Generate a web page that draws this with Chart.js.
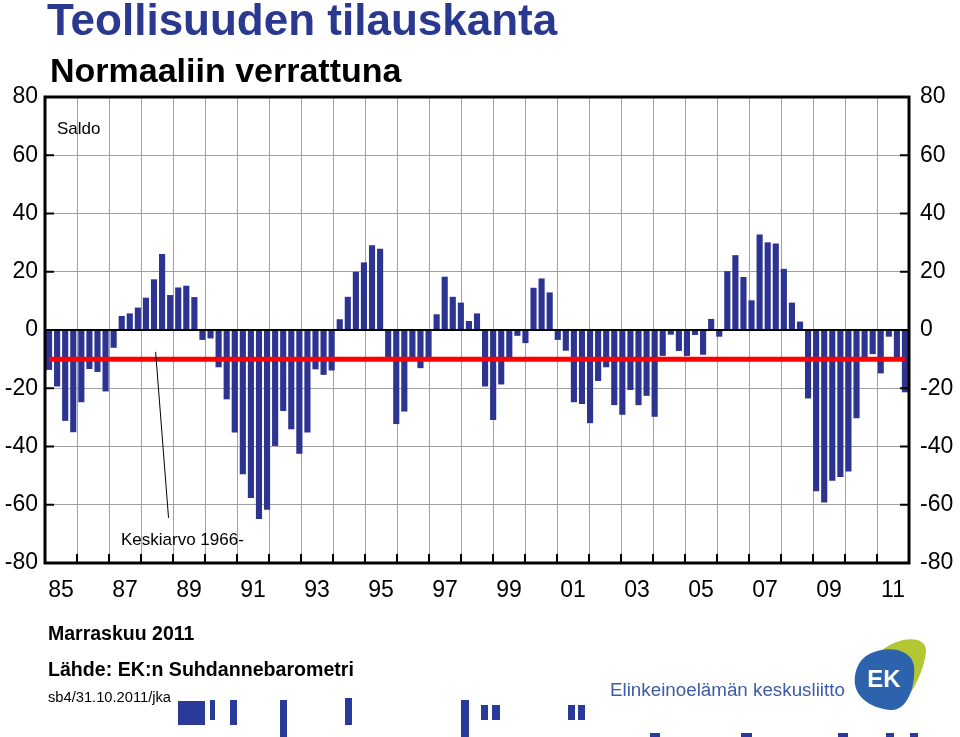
<!DOCTYPE html>
<html>
<head>
<meta charset="utf-8">
<script src="https://cdn.jsdelivr.net/npm/chart.js@4.4.0/dist/chart.umd.min.js"></script>
<style>
body { margin: 0; background: #fff; }
#wrap { position: relative; width: 960px; height: 737px; overflow: hidden; font-family: "Liberation Sans", Arial, sans-serif; }
#c { position: absolute; left: 0; top: 0; }
.t { position: absolute; white-space: nowrap; line-height: 1; color: #000; }
svg { position: absolute; left: 0; top: 0; }
</style>
</head>
<body>
<div id="wrap">
<canvas id="c" width="960" height="737"></canvas>
<div class="t" style="left:47px;top:-2px;font-size:44px;font-weight:bold;color:#2b388f">Teollisuuden tilauskanta</div>
<div class="t" style="left:50px;top:53px;font-size:34px;font-weight:bold">Normaaliin verrattuna</div>
<div class="t" style="left:57px;top:120px;font-size:17px">Saldo</div>
<div class="t" style="left:121px;top:531px;font-size:17px">Keskiarvo 1966-</div>
<div class="t" style="left:48px;top:624px;font-size:19.5px;font-weight:bold">Marraskuu 2011</div>
<div class="t" style="left:48px;top:660px;font-size:19.6px;font-weight:bold">Lähde: EK:n Suhdannebarometri</div>
<div class="t" style="left:48px;top:690px;font-size:14.7px">sb4/31.10.2011/jka</div>
<div class="t" style="left:610px;top:681px;font-size:18.8px;color:#3d5ba9">Elinkeinoelämän keskusliitto</div>
<svg width="960" height="737">
  <path d="M872 660 C890 636 928 632 926 652 C924 670 914 690 902 706 C915 684 916 662 872 660 Z" fill="#b3c735"/>
  <path d="M866 656 C884 644 912 648 914 666 C916 688 906 712 890 710 C870 708 852 696 855 676 C856 668 860 660 866 656 Z" fill="#2d63ad"/>
  <text x="884" y="687" font-family="Liberation Sans, Arial" font-weight="bold" font-size="24" fill="#fff" text-anchor="middle">EK</text>
  <g fill="#2a3a9a">
    <rect x="178" y="701" width="27" height="24"/>
    <rect x="210" y="700" width="5" height="20"/>
    <rect x="230" y="700" width="7" height="25"/>
    <rect x="280" y="700" width="7" height="37"/>
    <rect x="345" y="698" width="7" height="27"/>
    <rect x="461" y="700" width="8" height="37"/>
    <rect x="481" y="705" width="7" height="15"/>
    <rect x="492" y="705" width="8" height="15"/>
    <rect x="568" y="705" width="7" height="15"/>
    <rect x="578" y="705" width="7" height="15"/>
    <rect x="650" y="733" width="10" height="4"/>
    <rect x="741" y="733" width="11" height="4"/>
    <rect x="838" y="733" width="10" height="4"/>
    <rect x="886" y="733" width="8" height="4"/>
    <rect x="910" y="733" width="8" height="4"/>
  </g>
</svg>
</div>
<script>
// vuodet 1985-2011, neljännesvuosittain (viimeisin 2011 Q3)
const years = ['1985', '1986', '1987', '1988', '1989', '1990', '1991', '1992', '1993', '1994', '1995', '1996', '1997', '1998', '1999', '2000', '2001', '2002', '2003', '2004', '2005', '2006', '2007', '2008', '2009', '2010', '2011'];
const yearTicks = ['85', '86', '87', '88', '89', '90', '91', '92', '93', '94', '95', '96', '97', '98', '99', '00', '01', '02', '03', '04', '05', '06', '07', '08', '09', '10', '11'];
const quarters = ['Q1', 'Q2', 'Q3', 'Q4'];

// Saldo (tilauskanta normaaliin verrattuna)
const saldo = [
    -13.7, -19.4, -31.2, -35.1,   // 1985
    -24.8, -13.4, -14.4, -21.1,   // 1986
    -6.1, 4.8, 5.7, 7.7,          // 1987
    11.1, 17.4, 26.1, 12.0,       // 1988
    14.6, 15.2, 11.3, -3.4,       // 1989
    -2.9, -12.8, -23.8, -35.2,    // 1990
    -49.5, -57.7, -64.9, -61.7,   // 1991
    -39.8, -27.8, -34.1, -42.5,   // 1992
    -35.2, -13.5, -15.4, -13.9,   // 1993
    3.7, 11.4, 20.0, 23.2,        // 1994
    29.1, 27.9, -9.7, -32.3,      // 1995
    -28.0, -10.0, -13.1, -10.0,   // 1996
    5.4, 18.3, 11.4, 9.4,         // 1997
    3.1, 5.7, -19.4, -30.9,       // 1998
    -18.7, -9.5, -2.0, -4.5,      // 1999
    14.5, 17.7, 12.9, -3.4,       // 2000
    -7.1, -24.8, -25.4, -32.0,    // 2001
    -17.5, -12.8, -25.8, -29.1,   // 2002
    -20.6, -25.8, -22.6, -29.8,   // 2003
    -8.9, -1.6, -7.2, -8.9,       // 2004
    -1.7, -8.5, 3.8, -2.3,        // 2005
    20.2, 25.7, 18.2, 10.2,       // 2006
    32.8, 30.1, 29.7, 21.0,       // 2007
    9.4, 2.9, -23.5, -55.4,       // 2008
    -59.2, -51.8, -50.5, -48.6,   // 2009
    -30.3, -10.0, -8.3, -14.9,    // 2010
    -2.3, -10.0, -21.4            // 2011
];
const keskiarvo = -10;

let labels = [];
years.forEach(y => quarters.forEach(q => labels.push(y + ' ' + q)));
labels = labels.slice(0, saldo.length);
const averageLine = saldo.map(() => keskiarvo);

const tickFont = { family: '"Liberation Sans", Arial, sans-serif', size: 23 };

// kehys, sisäänpäin osoittavat jakoviivat ja selitteen viiva
const framePlugin = {
    id: 'frame',
    afterDraw(chart) {
        const { ctx, chartArea: a, scales } = chart;
        ctx.save();
        ctx.strokeStyle = '#000';
        ctx.lineWidth = 2;
        scales.y.ticks.forEach(t => {
            const py = scales.y.getPixelForValue(t.value);
            ctx.beginPath();
            ctx.moveTo(a.left, py); ctx.lineTo(a.left + 9, py);
            ctx.moveTo(a.right, py); ctx.lineTo(a.right - 9, py);
            ctx.stroke();
        });
        const yw = (a.right - a.left) / years.length;
        for (let i = 1; i < years.length; i++) {
            const px = Math.round(a.left + i * yw);
            ctx.beginPath();
            ctx.moveTo(px, a.bottom); ctx.lineTo(px, a.bottom - 9);
            ctx.stroke();
        }
        ctx.lineWidth = 3;
        ctx.strokeRect(a.left, a.top, a.right - a.left, a.bottom - a.top);
        // selitteen viiva
        ctx.lineWidth = 1;
        ctx.beginPath();
        ctx.moveTo(scales.x.getPixelForValue(13.2), scales.y.getPixelForValue(-7.5));
        ctx.lineTo(scales.x.getPixelForValue(14.8), scales.y.getPixelForValue(-64.5));
        ctx.stroke();
        ctx.restore();
    }
};

new Chart(document.getElementById('c'), {
    type: 'bar',
    data: {
        labels: labels,
        datasets: [
            {
                type: 'line',
                label: 'Keskiarvo 1966-',
                data: averageLine,
                borderColor: '#ff0000',
                borderWidth: 5,
                pointRadius: 0,
                fill: false,
                order: 0
            },
            {
                label: 'Saldo',
                data: saldo,
                backgroundColor: '#2d3391',
                borderWidth: 0,
                barPercentage: 1,
                categoryPercentage: 0.76,
                order: 1
            }
        ]
    },
    options: {
        responsive: false,
        animation: false,
        events: [],
        layout: { padding: { top: 97, bottom: 129, left: 0, right: 0 } },
        plugins: {
            legend: { display: false },
            tooltip: { enabled: false }
        },
        scales: {
            x: {
                type: 'category',
                display: false,
                offset: true
            },
            x2: {
                type: 'category',
                labels: yearTicks,
                position: 'bottom',
                offset: true,
                grid: { display: true, offset: true, color: '#a0a0a0', lineWidth: 1, drawTicks: false },
                border: { display: false },
                ticks: {
                    autoSkip: false,
                    maxRotation: 0,
                    padding: 14,
                    color: '#000',
                    font: tickFont,
                    callback: function(v, i) { return i % 2 === 0 ? yearTicks[i] : ''; }
                },
                afterFit(scale) { scale.height = 45; }
            },
            y: {
                position: 'left',
                min: -80,
                max: 80,
                grid: {
                    drawTicks: false,
                    color: c => c.tick.value === 0 ? '#000' : '#a0a0a0',
                    lineWidth: c => c.tick.value === 0 ? 2 : 1
                },
                border: { display: false },
                ticks: { stepSize: 20, padding: 7, color: '#000', font: tickFont },
                afterFit(scale) { scale.width = 45; }
            },
            y2: {
                position: 'right',
                display: true,
                min: -80,
                max: 80,
                grid: { display: false, drawTicks: false },
                border: { display: false },
                ticks: { stepSize: 20, padding: 11, color: '#000', font: tickFont },
                afterFit(scale) { scale.width = 51; }
            }
        }
    },
    plugins: [framePlugin]
});
</script>
</body>
</html>
